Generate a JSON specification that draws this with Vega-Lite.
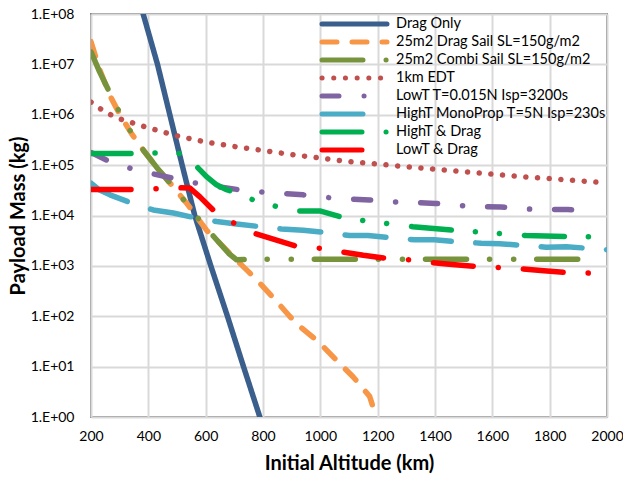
{
  "$schema": "https://vega.github.io/schema/vega-lite/v6.json",
  "width": 516,
  "height": 403,
  "autosize": "none",
  "padding": {"left": 91, "top": 14, "right": 16, "bottom": 62},
  "background": "white",
  "config": {
    "font": "Lato",
    "view": {"stroke": "#868686", "strokeWidth": 2},
    "axis": {"gridColor": "#D9D9D9", "gridWidth": 2, "domain": false, "ticks": false, "labelFont": "Lato", "labelFontSize": 14, "labelColor": "#000000", "titleFont": "Lato", "titleFontSize": 20, "titleFontWeight": "bold", "titleColor": "#000000"}
  },
  "data": {"values": [
    {"s":"Drag Only","x":382,"y":1e8},{"s":"Drag Only","x":432,"y":1e7},{"s":"Drag Only","x":475,"y":1e6},{"s":"Drag Only","x":518,"y":1e5},{"s":"Drag Only","x":562,"y":1e4},{"s":"Drag Only","x":618,"y":1000},{"s":"Drag Only","x":676,"y":100},{"s":"Drag Only","x":732,"y":10},{"s":"Drag Only","x":789,"y":1},
    {"s":"25m2 Drag Sail SL=150g/m2","x":200,"y":2.82e7},{"s":"25m2 Drag Sail SL=150g/m2","x":230,"y":7.94e6},{"s":"25m2 Drag Sail SL=150g/m2","x":266,"y":2.4e6},{"s":"25m2 Drag Sail SL=150g/m2","x":301,"y":1.0e6},{"s":"25m2 Drag Sail SL=150g/m2","x":342,"y":4.17e5},{"s":"25m2 Drag Sail SL=150g/m2","x":382,"y":2.0e5},{"s":"25m2 Drag Sail SL=150g/m2","x":430,"y":8.9e4},{"s":"25m2 Drag Sail SL=150g/m2","x":487,"y":3.7e4},{"s":"25m2 Drag Sail SL=150g/m2","x":533,"y":1.78e4},{"s":"25m2 Drag Sail SL=150g/m2","x":603,"y":5.1e3},{"s":"25m2 Drag Sail SL=150g/m2","x":638,"y":3.3e3},{"s":"25m2 Drag Sail SL=150g/m2","x":696,"y":1.51e3},{"s":"25m2 Drag Sail SL=150g/m2","x":750,"y":760},{"s":"25m2 Drag Sail SL=150g/m2","x":800,"y":389},{"s":"25m2 Drag Sail SL=150g/m2","x":850,"y":190},{"s":"25m2 Drag Sail SL=150g/m2","x":893,"y":100},{"s":"25m2 Drag Sail SL=150g/m2","x":928,"y":63},{"s":"25m2 Drag Sail SL=150g/m2","x":998,"y":29.5},{"s":"25m2 Drag Sail SL=150g/m2","x":1044,"y":15.8},{"s":"25m2 Drag Sail SL=150g/m2","x":1114,"y":6.3},{"s":"25m2 Drag Sail SL=150g/m2","x":1172,"y":2.57},{"s":"25m2 Drag Sail SL=150g/m2","x":1195,"y":1},
    {"s":"25m2 Combi Sail SL=150g/m2","x":200,"y":1.78e7},{"s":"25m2 Combi Sail SL=150g/m2","x":230,"y":7.1e6},{"s":"25m2 Combi Sail SL=150g/m2","x":266,"y":2.69e6},{"s":"25m2 Combi Sail SL=150g/m2","x":301,"y":1.07e6},{"s":"25m2 Combi Sail SL=150g/m2","x":342,"y":4.27e5},{"s":"25m2 Combi Sail SL=150g/m2","x":382,"y":2.0e5},{"s":"25m2 Combi Sail SL=150g/m2","x":430,"y":8.9e4},{"s":"25m2 Combi Sail SL=150g/m2","x":487,"y":3.7e4},{"s":"25m2 Combi Sail SL=150g/m2","x":533,"y":1.74e4},{"s":"25m2 Combi Sail SL=150g/m2","x":580,"y":7.9e3},{"s":"25m2 Combi Sail SL=150g/m2","x":638,"y":3.3e3},{"s":"25m2 Combi Sail SL=150g/m2","x":680,"y":1.78e3},{"s":"25m2 Combi Sail SL=150g/m2","x":708,"y":1.32e3},{"s":"25m2 Combi Sail SL=150g/m2","x":754,"y":1.35e3},{"s":"25m2 Combi Sail SL=150g/m2","x":850,"y":1.35e3},{"s":"25m2 Combi Sail SL=150g/m2","x":1000,"y":1.35e3},{"s":"25m2 Combi Sail SL=150g/m2","x":1200,"y":1.35e3},{"s":"25m2 Combi Sail SL=150g/m2","x":1400,"y":1.35e3},{"s":"25m2 Combi Sail SL=150g/m2","x":1600,"y":1.35e3},{"s":"25m2 Combi Sail SL=150g/m2","x":1800,"y":1.35e3},{"s":"25m2 Combi Sail SL=150g/m2","x":1956,"y":1.35e3},
    {"s":"1km EDT","x":200,"y":1.78e6},{"s":"1km EDT","x":250,"y":1.12e6},{"s":"1km EDT","x":300,"y":8.3e5},{"s":"1km EDT","x":400,"y":5.5e5},{"s":"1km EDT","x":500,"y":3.8e5},{"s":"1km EDT","x":600,"y":2.88e5},{"s":"1km EDT","x":700,"y":2.34e5},{"s":"1km EDT","x":800,"y":1.95e5},{"s":"1km EDT","x":900,"y":1.62e5},{"s":"1km EDT","x":1000,"y":1.38e5},{"s":"1km EDT","x":1100,"y":1.17e5},{"s":"1km EDT","x":1200,"y":1.05e5},{"s":"1km EDT","x":1300,"y":9.3e4},{"s":"1km EDT","x":1400,"y":8.3e4},{"s":"1km EDT","x":1500,"y":7.4e4},{"s":"1km EDT","x":1600,"y":6.6e4},{"s":"1km EDT","x":1700,"y":5.9e4},{"s":"1km EDT","x":1800,"y":5.4e4},{"s":"1km EDT","x":1900,"y":4.9e4},{"s":"1km EDT","x":1962,"y":4.6e4},
    {"s":"LowT T=0.015N Isp=3200s","x":200,"y":1.78e5},{"s":"LowT T=0.015N Isp=3200s","x":266,"y":1.17e5},{"s":"LowT T=0.015N Isp=3200s","x":336,"y":8.7e4},{"s":"LowT T=0.015N Isp=3200s","x":411,"y":6.8e4},{"s":"LowT T=0.015N Isp=3200s","x":487,"y":5.5e4},{"s":"LowT T=0.015N Isp=3200s","x":556,"y":4.5e4},{"s":"LowT T=0.015N Isp=3200s","x":630,"y":3.8e4},{"s":"LowT T=0.015N Isp=3200s","x":708,"y":3.3e4},{"s":"LowT T=0.015N Isp=3200s","x":789,"y":2.95e4},{"s":"LowT T=0.015N Isp=3200s","x":864,"y":2.75e4},{"s":"LowT T=0.015N Isp=3200s","x":940,"y":2.57e4},{"s":"LowT T=0.015N Isp=3200s","x":1016,"y":2.29e4},{"s":"LowT T=0.015N Isp=3200s","x":1094,"y":2.14e4},{"s":"LowT T=0.015N Isp=3200s","x":1172,"y":2.04e4},{"s":"LowT T=0.015N Isp=3200s","x":1248,"y":1.86e4},{"s":"LowT T=0.015N Isp=3200s","x":1323,"y":1.82e4},{"s":"LowT T=0.015N Isp=3200s","x":1402,"y":1.74e4},{"s":"LowT T=0.015N Isp=3200s","x":1480,"y":1.58e4},{"s":"LowT T=0.015N Isp=3200s","x":1555,"y":1.51e4},{"s":"LowT T=0.015N Isp=3200s","x":1631,"y":1.48e4},{"s":"LowT T=0.015N Isp=3200s","x":1706,"y":1.35e4},{"s":"LowT T=0.015N Isp=3200s","x":1784,"y":1.32e4},{"s":"LowT T=0.015N Isp=3200s","x":1863,"y":1.32e4},{"s":"LowT T=0.015N Isp=3200s","x":1938,"y":1.23e4},
    {"s":"HighT MonoProp T=5N Isp=230s","x":200,"y":4.4e4},{"s":"HighT MonoProp T=5N Isp=230s","x":230,"y":3.2e4},{"s":"HighT MonoProp T=5N Isp=230s","x":266,"y":2.57e4},{"s":"HighT MonoProp T=5N Isp=230s","x":340,"y":1.78e4},{"s":"HighT MonoProp T=5N Isp=230s","x":417,"y":1.29e4},{"s":"HighT MonoProp T=5N Isp=230s","x":487,"y":1.12e4},{"s":"HighT MonoProp T=5N Isp=230s","x":560,"y":9.1e3},{"s":"HighT MonoProp T=5N Isp=230s","x":638,"y":7.6e3},{"s":"HighT MonoProp T=5N Isp=230s","x":708,"y":6.8e3},{"s":"HighT MonoProp T=5N Isp=230s","x":790,"y":6.0e3},{"s":"HighT MonoProp T=5N Isp=230s","x":864,"y":5.4e3},{"s":"HighT MonoProp T=5N Isp=230s","x":940,"y":5.1e3},{"s":"HighT MonoProp T=5N Isp=230s","x":1020,"y":4.6e3},{"s":"HighT MonoProp T=5N Isp=230s","x":1102,"y":4.0e3},{"s":"HighT MonoProp T=5N Isp=230s","x":1166,"y":4.0e3},{"s":"HighT MonoProp T=5N Isp=230s","x":1250,"y":3.6e3},{"s":"HighT MonoProp T=5N Isp=230s","x":1329,"y":3.3e3},{"s":"HighT MonoProp T=5N Isp=230s","x":1398,"y":3.3e3},{"s":"HighT MonoProp T=5N Isp=230s","x":1480,"y":3.0e3},{"s":"HighT MonoProp T=5N Isp=230s","x":1561,"y":2.82e3},{"s":"HighT MonoProp T=5N Isp=230s","x":1625,"y":2.75e3},{"s":"HighT MonoProp T=5N Isp=230s","x":1700,"y":2.57e3},{"s":"HighT MonoProp T=5N Isp=230s","x":1788,"y":2.34e3},{"s":"HighT MonoProp T=5N Isp=230s","x":1858,"y":2.4e3},{"s":"HighT MonoProp T=5N Isp=230s","x":1930,"y":2.24e3},{"s":"HighT MonoProp T=5N Isp=230s","x":2000,"y":2.09e3},
    {"s":"HighT & Drag","x":200,"y":1.7e5},{"s":"HighT & Drag","x":347,"y":1.7e5},{"s":"HighT & Drag","x":430,"y":1.74e5},{"s":"HighT & Drag","x":512,"y":1.7e5},{"s":"HighT & Drag","x":540,"y":1.58e5},{"s":"HighT & Drag","x":574,"y":8.7e4},{"s":"HighT & Drag","x":603,"y":5.9e4},{"s":"HighT & Drag","x":638,"y":4.07e4},{"s":"HighT & Drag","x":670,"y":3.3e4},{"s":"HighT & Drag","x":696,"y":2.95e4},{"s":"HighT & Drag","x":766,"y":2.04e4},{"s":"HighT & Drag","x":847,"y":1.51e4},{"s":"HighT & Drag","x":926,"y":1.23e4},{"s":"HighT & Drag","x":998,"y":1.23e4},{"s":"HighT & Drag","x":1085,"y":8.9e3},{"s":"HighT & Drag","x":1160,"y":7.8e3},{"s":"HighT & Drag","x":1244,"y":6.8e3},{"s":"HighT & Drag","x":1323,"y":6.0e3},{"s":"HighT & Drag","x":1480,"y":5.0e3},{"s":"HighT & Drag","x":1558,"y":4.7e3},{"s":"HighT & Drag","x":1640,"y":4.3e3},{"s":"HighT & Drag","x":1718,"y":4.0e3},{"s":"HighT & Drag","x":1875,"y":3.8e3},{"s":"HighT & Drag","x":1952,"y":3.8e3},
    {"s":"LowT & Drag","x":200,"y":3.3e4},{"s":"LowT & Drag","x":347,"y":3.3e4},{"s":"LowT & Drag","x":429,"y":3.4e4},{"s":"LowT & Drag","x":512,"y":3.55e4},{"s":"LowT & Drag","x":545,"y":3.5e4},{"s":"LowT & Drag","x":580,"y":2.34e4},{"s":"LowT & Drag","x":626,"y":1.29e4},{"s":"LowT & Drag","x":696,"y":7.2e3},{"s":"LowT & Drag","x":766,"y":4.5e3},{"s":"LowT & Drag","x":850,"y":3.2e3},{"s":"LowT & Drag","x":923,"y":2.4e3},{"s":"LowT & Drag","x":998,"y":2.24e3},{"s":"LowT & Drag","x":1073,"y":1.9e3},{"s":"LowT & Drag","x":1150,"y":1.62e3},{"s":"LowT & Drag","x":1230,"y":1.41e3},{"s":"LowT & Drag","x":1308,"y":1.32e3},{"s":"LowT & Drag","x":1385,"y":1.17e3},{"s":"LowT & Drag","x":1460,"y":1.07e3},{"s":"LowT & Drag","x":1541,"y":980},{"s":"LowT & Drag","x":1619,"y":930},{"s":"LowT & Drag","x":1700,"y":870},{"s":"LowT & Drag","x":1780,"y":800},{"s":"LowT & Drag","x":1859,"y":740},{"s":"LowT & Drag","x":1936,"y":720}
  ]},
  "mark": {"type": "line", "strokeWidth": 5.5, "strokeCap": "round", "strokeJoin": "round", "clip": true},
  "encoding": {
    "x": {"field": "x", "type": "quantitative", "scale": {"domain": [200, 2000], "nice": false, "zero": false},
      "axis": {"values": [200,400,600,800,1000,1200,1400,1600,1800,2000], "format": "d", "title": "Initial Altitude (km)", "labelPadding": 12, "titlePadding": 10, "labelFlush": false}},
    "y": {"field": "y", "type": "quantitative", "scale": {"type": "log", "domain": [1, 100000000], "nice": false},
      "axis": {"values": [1,10,100,1000,10000,100000,1000000,10000000,100000000], "labelExpr": "'1.E+0' + round(log(datum.value)/LN10)", "title": "Payload Mass (kg)", "labelPadding": 17, "titlePadding": 2, "labelFlush": false}},
    "color": {"field": "s", "type": "nominal",
      "scale": {"domain": ["Drag Only","25m2 Drag Sail SL=150g/m2","25m2 Combi Sail SL=150g/m2","1km EDT","LowT T=0.015N Isp=3200s","HighT MonoProp T=5N Isp=230s","HighT & Drag","LowT & Drag"],
        "range": ["#3A5F8C","#F79646","#77933C","#C0504D","#8064A2","#4BACC6","#00B050","#FF0000"]},
      "legend": {"title": null, "orient": "none", "legendX": 256, "legendY": 2.4, "symbolType": "M-6.5,0H6.5", "symbolSize": 100, "symbolStrokeWidth": 5, "labelFont": "Lato", "labelFontSize": 14.5, "labelColor": "#000000", "labelOffset": 34, "rowPadding": -3.2, "labelLimit": 300,
        "encode": {"symbols": {"update": {"strokeCap": {"value": "round"}}}}}},
    "strokeDash": {"field": "s", "type": "nominal",
      "scale": {"domain": ["Drag Only","25m2 Drag Sail SL=150g/m2","25m2 Combi Sail SL=150g/m2","1km EDT","LowT T=0.015N Isp=3200s","HighT MonoProp T=5N Isp=230s","HighT & Drag","LowT & Drag"],
        "range": [[1,0],[15,15],[41,23,0.1,24,0.1,23],[0.1,11.6],[17,25,0.1,25],[41,24.5],[40,24,0.1,24,0.1,25],[40,25,0.1,25]]}}
  }
}
